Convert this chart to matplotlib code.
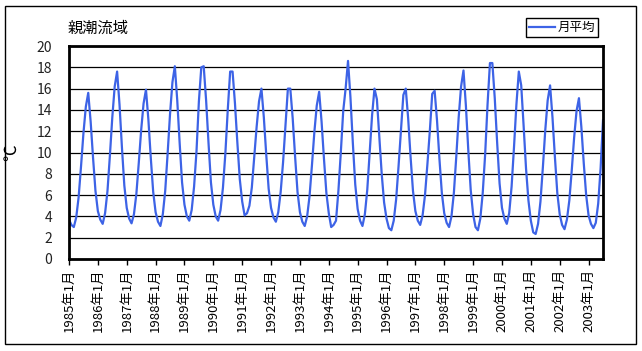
import matplotlib
matplotlib.use("Agg")
import matplotlib.pyplot as plt
from matplotlib.patches import Rectangle
import numpy as np

plt.rcParams['font.family'] = ['Noto Sans CJK JP', 'DejaVu Sans']

# monthly mean water temperature, Oyashio region, 1985-01 .. 2003-07
t1985 = [3.7, 3.2, 3.0, 3.9, 5.8, 8.7, 11.8, 14.3, 15.6, 12.9, 9.5, 6.4]
t1986 = [4.5, 3.7, 3.3, 4.3, 6.4, 9.7, 13.3, 16.2, 17.6, 14.5, 10.5, 6.9]
t1987 = [4.8, 3.8, 3.35, 4.2, 6.1, 9.0, 12.1, 14.6, 15.9, 13.1, 9.5, 6.3]
t1988 = [4.4, 3.5, 3.1, 4.2, 6.4, 9.9, 13.6, 16.6, 18.1, 14.9, 10.9, 7.2]
t1989 = [5.1, 4.0, 3.6, 4.6, 6.8, 10.1, 14.8, 18.0, 18.1, 14.9, 10.9, 7.2]
t1990 = [5.1, 4.0, 3.6, 4.6, 6.7, 9.9, 14.0, 17.6, 17.6, 14.6, 10.9, 7.5]
t1991 = [5.4, 4.1, 4.3, 5.0, 6.7, 9.5, 12.4, 14.8, 16.0, 13.3, 9.8, 6.6]
t1992 = [4.8, 3.9, 3.5, 4.4, 6.3, 9.1, 12.5, 16.0, 16.0, 13.2, 9.6, 6.3]
t1993 = [4.4, 3.5, 3.1, 4.0, 5.9, 8.8, 11.9, 14.4, 15.7, 12.9, 9.4, 6.2]
t1994 = [4.3, 3.0, 3.2, 3.6, 6.4, 10.0, 13.9, 16.0, 18.6, 15.2, 10.9, 7.0]
t1995 = [4.7, 3.6, 3.1, 4.2, 6.5, 10.0, 13.5, 16.0, 15.0, 11.5, 8.0, 5.3]
t1996 = [3.8, 2.9, 2.7, 3.6, 5.6, 8.7, 12.0, 15.4, 16.0, 13.2, 9.6, 6.4]
t1997 = [4.5, 3.6, 3.2, 4.1, 6.0, 8.9, 12.0, 15.5, 15.8, 13.0, 9.4, 6.2]
t1998 = [4.3, 3.4, 3.0, 4.0, 6.2, 9.6, 13.3, 16.2, 17.7, 14.4, 10.2, 6.5]
t1999 = [4.2, 3.0, 2.7, 3.8, 6.2, 9.8, 14.5, 18.4, 18.4, 15.1, 10.9, 7.1]
t2000 = [4.8, 3.8, 3.3, 4.3, 6.8, 10.5, 14.5, 17.6, 16.3, 12.5, 8.5, 5.5]
t2001 = [3.6, 2.5, 2.35, 3.3, 5.4, 8.6, 12.1, 14.9, 16.3, 13.3, 9.6, 6.2]
t2002 = [4.2, 3.2, 2.8, 3.7, 5.5, 8.3, 11.4, 13.9, 15.1, 12.4, 9.0, 6.0]
t2003 = [4.1, 3.3, 2.9, 3.4, 5.2, 8.5, 13.0]

years = list(range(1985, 2004))
temps = (t1985 + t1986 + t1987 + t1988 + t1989 + t1990 + t1991 + t1992 + t1993
         + t1994 + t1995 + t1996 + t1997 + t1998 + t1999 + t2000 + t2001
         + t2002 + t2003)
tick_labels = [f"{y}年1月" for y in years]
yticks = list(range(0, 21, 2))

W, H = 642, 351
fig = plt.figure(figsize=(W / 100, H / 100), dpi=100)
fig.patches.append(Rectangle((5 / W, 7 / H), 631 / W, 338 / H, transform=fig.transFigure,
                             fill=False, edgecolor='black', linewidth=1))

ax = fig.add_axes([69 / W, (H - 259) / H, (603 - 69) / W, (259 - 46) / H])
x = np.arange(len(temps))
ax.plot(x, temps, color='#3d63e6', linewidth=1.6, label='月平均')

ax.set_xlim(0, len(temps) - 1)
ax.set_ylim(0, 20)
ax.set_yticks(yticks)
ax.yaxis.grid(True, color='black', linewidth=0.9)
ax.set_axisbelow(True)
ax.tick_params(axis='y', length=0, pad=12, labelsize=10, colors='#222222')
ax.set_xticks(np.arange(0, len(temps), 12))
ax.set_xticklabels(tick_labels, rotation=90, fontsize=9.5)
ax.tick_params(axis='x', direction='out', length=4, width=1, pad=3)
for s in ax.spines.values():
    s.set_linewidth(2)
ax.set_ylabel('℃', fontsize=12, labelpad=12)

fig.text(68 / W, (H - 28) / H, '親潮流域', fontsize=11, va='center', ha='left')
ax.legend(loc='upper right', bbox_to_anchor=(598 / W, (H - 18) / H),
          bbox_transform=fig.transFigure, fancybox=False, edgecolor='black',
          framealpha=1, fontsize=9, handlelength=2.1, borderpad=0.25,
          handletextpad=0.2, borderaxespad=0)

fig.savefig('out.png', dpi=100)
